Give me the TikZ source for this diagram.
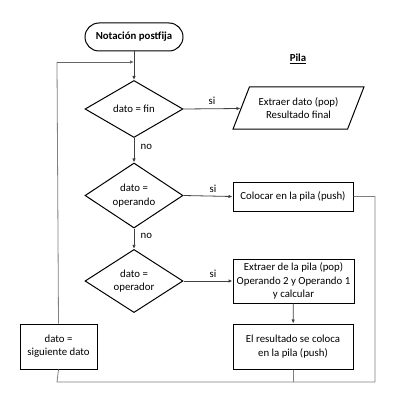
\documentclass[tikz,border=0pt]{standalone}
\usepackage{fontspec}
\setmainfont{Carlito}
\usetikzlibrary{shapes.geometric,arrows.meta}
\begin{document}
\begin{tikzpicture}[x=1pt,y=-1pt,
  every node/.style={font=\fontsize{10.8}{13.3}\selectfont, align=center},
  box/.style={draw=black, line width=1pt, rectangle, inner sep=1pt},
  dec/.style={draw=black, line width=1pt, diamond, inner sep=0pt, minimum width=98pt, minimum height=57pt},
  io/.style={draw=black, line width=1pt, trapezium, trapezium left angle=58, trapezium right angle=122, trapezium stretches=true, minimum width=131pt, minimum height=42pt, inner sep=0pt},
  term/.style={draw=black, line width=1pt, rectangle, rounded corners=14pt, minimum width=98pt, minimum height=28pt},
  arr/.style={draw=black!75, line width=0.8pt, -{Latex[length=4pt,width=3.5pt]}},
  ln/.style={draw=black!50, line width=0.8pt},
  lbl/.style={font=\fontsize{10.8}{12}\selectfont}
]
\useasboundingbox (0,0) rectangle (400,401);
\node[term, font=\bfseries\fontsize{10.8}{12}\selectfont] (start) at (134,37) {Notación postfija};
\node[dec] (d1) at (134,109) {dato = fin};
\node[dec] (d2) at (134,195.5) {dato =\\operando};
\node[dec] (d3) at (134,281) {dato =\\operador};
\node[io] (pop) at (298.5,108) {Extraer dato (pop)\\Resultado final};
\node[font=\bfseries\fontsize{10.8}{12}\selectfont] (pila) at (298,59) {\underline{Pila}};
\node[box, minimum width=120pt, minimum height=29pt] (push) at (293,196.5) {Colocar en la pila (push)};
\node[box, minimum width=121pt, minimum height=44pt] (calc) at (293.5,281) {Extraer de la pila (pop)\\Operando 2 y Operando 1\\y calcular};
\node[box, minimum width=120pt, minimum height=45pt] (res) at (293,346.5) {El resultado se coloca\\en la pila (push)};
\node[box, minimum width=77pt, minimum height=45pt] (sig) at (58.5,346.5) {dato =\\siguiente dato};
\coordinate (j) at (134,62);
\coordinate (c1) at (57,62);
\coordinate (c2) at (375,196.5);
\coordinate (c3) at (375,382);
\coordinate (c4) at (57,382);
\coordinate (c5) at (293,382);

\draw[arr] (start) -- (d1);
\draw[arr] (d1) -- node[lbl, right, xshift=3pt, pos=0.35] {no} (d2);
\draw[arr] (d2) -- node[lbl, right, xshift=3pt, pos=0.35] {no} (d3);
\draw[arr] (d1.east) -- node[lbl, above, pos=0.5] {si} (pop);
\draw[arr] (d2.east) -- node[lbl, above, pos=0.6] {si} (push.west);
\draw[arr] (d3.east) -- node[lbl, above, pos=0.6] {si} (calc.west);
\draw[arr] (calc) -- (res);
\draw[ln] (push.east) -- (c2) -- (c3) -- (c4) -- (sig.south);
\draw[ln] (res.south) -- (c5);
\draw[ln] (sig.north) -- (c1);
\draw[arr, draw=black!60] (c1) -- (j);
\end{tikzpicture}
\end{document}
